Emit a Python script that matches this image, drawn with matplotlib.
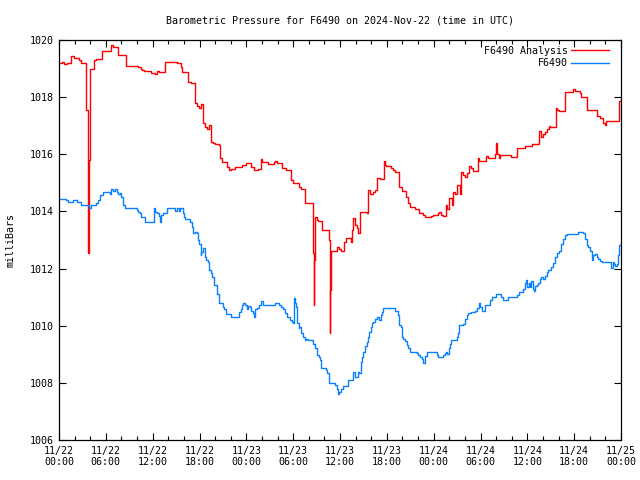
import matplotlib
matplotlib.use("Agg")
import matplotlib.pyplot as plt
from matplotlib.ticker import MultipleLocator

# Hours since 2024-11-22 00:00 UTC, pressure in mbar
analysis_hours = [0.0, 0.38, 0.64, 1.07, 1.58, 1.92, 2.52, 2.78, 3.29, 3.42, 3.70, 3.78, 3.85, 3.93,
                  4.48, 4.78, 5.51, 6.62, 6.92, 7.56, 8.63, 10.1, 10.46, 10.63, 10.89, 11.4, 11.74,
                  12.26, 12.51, 12.77, 13.54, 14.05, 15.08, 15.59, 15.76, 16.53, 16.87, 17.47, 17.72,
                  17.98, 18.23, 18.49, 18.66, 18.92, 19.18, 19.51, 19.69, 19.95, 20.46, 20.63, 20.88,
                  21.56, 21.82, 22.0, 22.59, 22.84, 23.44, 23.96, 24.64, 24.98, 25.49, 25.84, 26.0,
                  26.77, 27.54, 27.71, 27.96, 28.57, 29.08, 29.68, 29.94, 30.7, 31.04, 31.55, 32.58,
                  32.62, 32.67, 32.84, 33.01, 33.18, 33.69, 33.78, 34.63, 34.68, 34.75, 34.88, 35.65,
                  35.91, 36.09, 36.51, 36.77, 37.37, 37.53, 37.7, 37.96, 38.13, 38.3, 38.56, 39.41,
                  39.58, 39.84, 40.27, 40.52, 40.7, 41.12, 41.63, 41.72, 41.89, 42.57, 42.83, 43.0,
                  43.6, 43.94, 44.45, 44.71, 44.97, 45.65, 46.08, 46.67, 46.85, 47.7, 47.96, 48.55,
                  48.72, 48.98, 49.16, 49.58, 49.75, 50.0, 50.35, 50.51, 50.69, 51.03, 51.37, 51.54,
                  51.72, 51.97, 52.31, 52.56, 52.74, 53.0, 53.68, 53.85, 54.7, 54.96, 55.82, 55.98,
                  56.15, 56.33, 56.5, 57.94, 58.71, 59.66, 60.59, 61.55, 61.79, 61.97, 62.22, 62.48,
                  62.73, 62.9, 63.67, 63.84, 64.02, 64.78, 64.95, 65.81, 66.06, 66.74, 66.91, 67.68,
                  68.88, 69.3, 69.73, 69.9, 70.07, 71.79, 72.0]
analysis_mbar = [1019.18, 1019.22, 1019.16, 1019.2, 1019.44, 1019.36, 1019.3, 1019.21, 1019.18, 1017.55,
                 1012.56, 1014.2, 1015.8, 1018.97, 1019.3, 1019.32, 1019.62, 1019.82, 1019.74, 1019.47,
                 1019.09, 1019.04, 1018.98, 1018.95, 1018.93, 1018.9, 1018.86, 1018.81, 1018.92,
                 1018.87, 1019.24, 1019.22, 1019.18, 1019.05, 1018.89, 1018.52, 1018.48, 1017.78,
                 1017.7, 1017.61, 1017.75, 1017.08, 1016.94, 1016.9, 1017.03, 1016.44, 1016.38,
                 1016.35, 1016.32, 1015.86, 1015.74, 1015.57, 1015.45, 1015.48, 1015.57, 1015.55,
                 1015.62, 1015.68, 1015.55, 1015.45, 1015.5, 1015.82, 1015.72, 1015.65, 1015.74,
                 1015.77, 1015.68, 1015.51, 1015.45, 1015.1, 1014.98, 1014.87, 1014.77, 1014.28,
                 1012.53, 1010.72, 1012.3, 1013.82, 1013.7, 1013.67, 1013.35, 1013.34, 1013.0,
                 1009.73, 1011.25, 1012.63, 1012.74, 1012.67, 1012.63, 1012.94, 1013.08, 1012.94,
                 1013.35, 1013.76, 1013.52, 1013.41, 1013.23, 1013.99, 1013.93, 1014.75, 1014.61,
                 1014.69, 1014.75, 1015.16, 1015.12, 1015.78, 1015.62, 1015.6, 1015.53, 1015.45,
                 1015.39, 1014.87, 1014.72, 1014.52, 1014.28, 1014.17, 1014.07, 1013.93, 1013.88,
                 1013.79, 1013.85, 1013.87, 1013.93, 1013.99, 1013.88, 1013.84, 1014.22, 1014.1,
                 1014.46, 1014.22, 1014.69, 1014.62, 1014.92, 1014.6, 1015.39, 1015.27, 1015.19,
                 1015.33, 1015.59, 1015.51, 1015.42, 1015.86, 1015.78, 1015.94, 1015.86, 1016.01,
                 1016.38, 1016.01, 1015.86, 1015.98, 1015.9, 1016.23, 1016.29, 1016.36, 1016.83,
                 1016.62, 1016.7, 1016.78, 1016.87, 1016.99, 1016.94, 1017.61, 1017.55, 1017.51,
                 1018.19, 1018.17, 1018.27, 1018.21, 1018.15, 1017.99, 1017.55, 1017.34, 1017.26,
                 1017.08, 1017.03, 1017.16, 1017.88, 1017.9]

station_hours = [0.0, 0.94, 1.15, 1.79, 2.35, 2.78, 3.8, 4.06, 4.78, 4.98, 5.21, 5.64, 6.49, 6.7, 6.96,
                 7.22, 7.39, 7.56, 7.82, 7.99, 8.24, 8.41, 9.95, 10.12, 10.38, 10.46, 10.97, 12.17,
                 12.34, 12.51, 12.77, 12.94, 13.11, 13.28, 13.88, 14.9, 15.16, 15.33, 15.5, 15.84,
                 16.01, 16.18, 16.78, 17.04, 17.21, 17.47, 17.64, 17.81, 17.98, 18.15, 18.23, 18.49,
                 18.66, 18.83, 19.09, 19.26, 19.43, 19.6, 19.86, 20.2, 20.46, 20.97, 21.14, 21.4,
                 21.99, 23.1, 23.27, 23.44, 23.61, 23.78, 24.04, 24.21, 24.47, 24.64, 24.81, 24.98,
                 25.15, 25.41, 25.66, 25.92, 26.18, 27.63, 28.14, 28.49, 28.74, 28.91, 29.17, 29.59,
                 29.85, 30.02, 30.11, 30.19, 30.36, 30.53, 30.7, 30.79, 30.96, 31.21, 31.47, 31.64,
                 31.9, 32.58, 32.84, 33.01, 33.27, 33.44, 33.61, 34.21, 34.38, 34.55, 35.4, 35.57,
                 35.74, 35.91, 36.17, 36.34, 37.02, 37.71, 37.96, 38.13, 38.3, 38.47, 38.64, 38.82,
                 38.99, 39.16, 39.41, 39.58, 39.76, 39.93, 40.1, 40.27, 40.44, 40.7, 40.87, 41.04,
                 41.21, 41.38, 41.55, 42.99, 43.43, 43.6, 43.77, 43.94, 44.11, 44.28, 44.54, 44.71,
                 44.97, 45.82, 45.99, 46.25, 46.5, 46.67, 46.85, 47.1, 48.39, 48.55, 49.24, 49.41,
                 49.58, 49.75, 49.92, 50.09, 50.26, 50.95, 51.12, 51.29, 51.71, 51.97, 52.23, 52.4,
                 52.82, 53.25, 53.5, 53.76, 53.93, 54.19, 54.53, 55.21, 55.47, 55.98, 56.57, 56.92,
                 57.52, 58.71, 58.97, 59.48, 59.66, 59.83, 60.0, 60.17, 60.34, 60.51, 60.68, 60.85,
                 61.02, 61.19, 61.36, 61.62, 61.79, 61.96, 62.22, 62.47, 62.64, 63.07, 63.33, 63.5,
                 63.75, 64.01, 64.27, 64.52, 64.78, 65.04, 66.49, 67.17, 67.34, 67.6, 67.77, 68.02,
                 68.28, 68.45, 68.62, 68.88, 69.05, 69.3, 69.56, 70.76, 70.93, 71.1, 71.27, 71.44,
                 71.61, 71.78, 72.0]
station_mbar = [1014.42, 1014.39, 1014.32, 1014.39, 1014.32, 1014.22, 1014.12, 1014.22, 1014.3, 1014.39,
                1014.57, 1014.69, 1014.62, 1014.78, 1014.7, 1014.8, 1014.69, 1014.62, 1014.66,
                1014.5, 1014.22, 1014.11, 1014.05, 1013.99, 1013.93, 1013.82, 1013.62, 1014.11,
                1013.99, 1013.93, 1013.85, 1013.64, 1013.88, 1013.93, 1014.11, 1014.02, 1014.11,
                1014.03, 1014.11, 1013.93, 1013.82, 1013.73, 1013.64, 1013.47, 1013.23, 1013.29,
                1013.25, 1013.0, 1012.86, 1012.47, 1012.59, 1012.71, 1012.42, 1012.3, 1012.24,
                1011.95, 1011.83, 1011.72, 1011.42, 1011.11, 1010.78, 1010.67, 1010.57, 1010.41,
                1010.29, 1010.49, 1010.6, 1010.72, 1010.78, 1010.72, 1010.6, 1010.69, 1010.67,
                1010.53, 1010.45, 1010.3, 1010.6, 1010.62, 1010.72, 1010.88, 1010.72, 1010.78,
                1010.72, 1010.67, 1010.57, 1010.43, 1010.29, 1010.2, 1010.14, 1010.08, 1010.97,
                1010.78, 1010.67, 1010.08, 1009.91, 1009.94, 1009.73, 1009.61, 1009.5, 1009.55,
                1009.5, 1009.36, 1009.21, 1008.97, 1008.91, 1008.8, 1008.51, 1008.45, 1008.34,
                1007.98, 1007.92, 1007.8, 1007.61, 1007.69, 1007.8, 1007.89, 1008.1, 1008.39,
                1008.19, 1008.22, 1008.39, 1008.34, 1008.74, 1008.92, 1009.09, 1009.29, 1009.44,
                1009.61, 1009.79, 1009.96, 1010.08, 1010.14, 1010.22, 1010.31, 1010.29, 1010.2,
                1010.38, 1010.49, 1010.63, 1010.53, 1010.38, 1010.02, 1009.94, 1009.62, 1009.53,
                1009.45, 1009.33, 1009.21, 1009.09, 1009.03, 1008.97, 1008.89, 1008.82, 1008.71,
                1008.95, 1009.09, 1008.97, 1008.89, 1008.97, 1009.05, 1009.09, 1009.0, 1009.21,
                1009.36, 1009.5, 1009.61, 1009.76, 1010.02, 1010.05, 1010.22, 1010.38, 1010.43,
                1010.49, 1010.53, 1010.61, 1010.78, 1010.67, 1010.52, 1010.72, 1010.9, 1010.99,
                1011.1, 1010.99, 1010.9, 1010.99, 1011.07, 1011.19, 1011.3, 1011.48, 1011.6,
                1011.37, 1011.51, 1011.37, 1011.58, 1011.3, 1011.22, 1011.38, 1011.42, 1011.5,
                1011.62, 1011.69, 1011.62, 1011.74, 1011.89, 1011.95, 1012.07, 1012.21, 1012.4,
                1012.54, 1012.63, 1012.86, 1013.02, 1013.17, 1013.21, 1013.29, 1013.23, 1013.04,
                1012.82, 1012.76, 1012.63, 1012.3, 1012.47, 1012.5, 1012.42, 1012.33, 1012.28,
                1012.24, 1012.01, 1012.24, 1012.16, 1012.1, 1012.16, 1012.47, 1012.82, 1012.82]

tick_hours = [0, 6, 12, 18, 24, 30, 36, 42, 48, 54, 60, 66, 72]
tick_labels = ["11/22\n00:00", "11/22\n06:00", "11/22\n12:00", "11/22\n18:00",
               "11/23\n00:00", "11/23\n06:00", "11/23\n12:00", "11/23\n18:00",
               "11/24\n00:00", "11/24\n06:00", "11/24\n12:00", "11/24\n18:00",
               "11/25\n00:00"]

FONT = ["DejaVu Sans Mono"]
FS = 7.2
plt.rcParams['font.family'] = FONT

fig = plt.figure(figsize=(6.4, 4.8), dpi=100)
ax = fig.add_axes([59/640, 40/480, (621-59)/640, 400/480])

ax.plot(analysis_hours, analysis_mbar, drawstyle='steps-post', color='#ff0000', lw=1.0,
        label='F6490 Analysis')
ax.plot(station_hours, station_mbar, drawstyle='steps-post', color='#0a80ff', lw=1.0,
        label='F6490')

ax.set_xlim(0, 72)
ax.set_ylim(1006, 1020)
ax.set_xticks(tick_hours)
ax.set_xticklabels(tick_labels, fontsize=FS)
ax.xaxis.set_minor_locator(MultipleLocator(2))
ax.set_yticks(range(1006, 1021, 2))
ax.set_yticklabels([str(v) for v in range(1006, 1021, 2)], fontsize=FS)
ax.tick_params(which='major', direction='in', length=5, width=0.8, top=True, right=True, pad=4)
ax.tick_params(which='minor', direction='in', length=3, width=0.8, top=True, right=False)
for s in ax.spines.values():
    s.set_linewidth(0.9)

ax.set_ylabel('milliBars', fontsize=FS, labelpad=10)
ax.set_title('Barometric Pressure for F6490 on 2024-Nov-22 (time in UTC)', fontsize=FS, pad=12)

leg = ax.legend(loc='upper right', bbox_to_anchor=(1 - 8/562, 1 - 2/400), borderaxespad=0,
                frameon=False, markerfirst=False, fontsize=FS,
                handlelength=3.8, handletextpad=0.3, labelspacing=0.25)
for t in leg.get_texts():
    t.set_ha('right')

fig.savefig('out.png', dpi=100)
